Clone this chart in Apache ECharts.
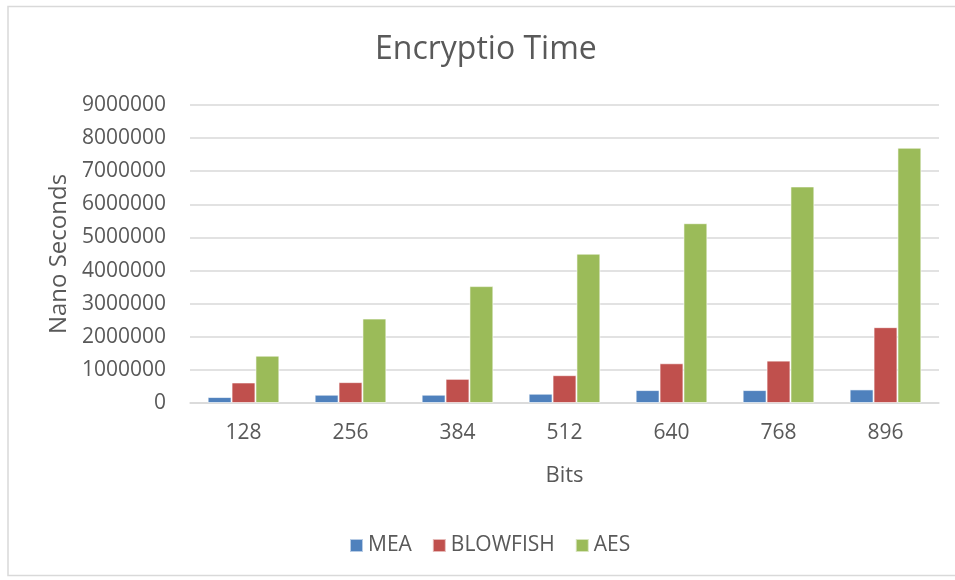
<!DOCTYPE html>
<html>
<head>
<meta charset="utf-8">
<script src="https://cdn.jsdelivr.net/npm/echarts@6/dist/echarts.min.js"></script>
<style>
html,body{margin:0;padding:0;background:#fff;}
#c{width:955px;height:580px;}
</style>
</head>
<body>
<div id="c"></div>
<script>
const categories = ['128', '256', '384', '512', '640', '768', '896'];
const meaValues = [180000, 250000, 250000, 280000, 390000, 390000, 410000];
const blowfishValues = [620000, 630000, 730000, 840000, 1200000, 1280000, 2290000];
const aesValues = [1430000, 2550000, 3530000, 4510000, 5430000, 6540000, 7710000];
const seriesNames = ['MEA', 'BLOWFISH', 'AES'];
const colors = ['#4F81BD', '#C0504D', '#9BBB59'];

const font = 'Open Sans';
const textColor = '#595959';
const chart = echarts.init(document.getElementById('c'));
const mk = (name, data, i) => ({
  name: name, type: 'bar', data: data,
  barGap: '0%', barCategoryGap: '33%',
  itemStyle: { color: colors[i], borderColor: 'rgba(255,255,255,0.6)', borderWidth: 1 }
});
chart.setOption({
  animation: false,
  backgroundColor: '#fff',
  graphic: [{
    type: 'rect', shape: { x: 8, y: 6.5, width: 960, height: 569 },
    style: { fill: 'none', stroke: '#D9D9D9', lineWidth: 1.5 }, silent: true, z: -1
  }],
  title: {
    text: 'Encryptio Time', left: 370, top: 29,
    textStyle: { fontFamily: font, fontSize: 32, fontWeight: 'normal', color: textColor }
  },
  legend: {
    data: seriesNames, bottom: 19, left: 344, itemWidth: 13, itemHeight: 13, itemGap: 20,
    icon: 'rect',
    textStyle: { fontFamily: font, fontSize: 21, color: textColor }
  },
  grid: { left: 190, right: 16, top: 105, bottom: 177, containLabel: false },
  xAxis: {
    type: 'category', data: categories,
    name: 'Bits', nameLocation: 'middle', nameGap: 62,
    nameTextStyle: { fontFamily: font, fontSize: 22, color: textColor },
    axisLine: { lineStyle: { color: '#D9D9D9', width: 1.5 } },
    axisTick: { show: false },
    axisLabel: { fontFamily: font, fontSize: 21, color: textColor, margin: 20 }
  },
  yAxis: {
    type: 'value', min: 0, max: 9000000, interval: 1000000,
    name: 'Nano Seconds', nameLocation: 'middle', nameGap: 119,
    nameTextStyle: { fontFamily: font, fontSize: 24, color: textColor },
    axisLine: { show: false }, axisTick: { show: false },
    splitLine: { lineStyle: { color: '#D9D9D9', width: 1.5 } },
    axisLabel: { fontFamily: font, fontSize: 21, color: textColor, margin: 24, formatter: v => String(v) }
  },
  series: [mk(seriesNames[0], meaValues, 0), mk(seriesNames[1], blowfishValues, 1), mk(seriesNames[2], aesValues, 2)]
});
</script>
</body>
</html>
